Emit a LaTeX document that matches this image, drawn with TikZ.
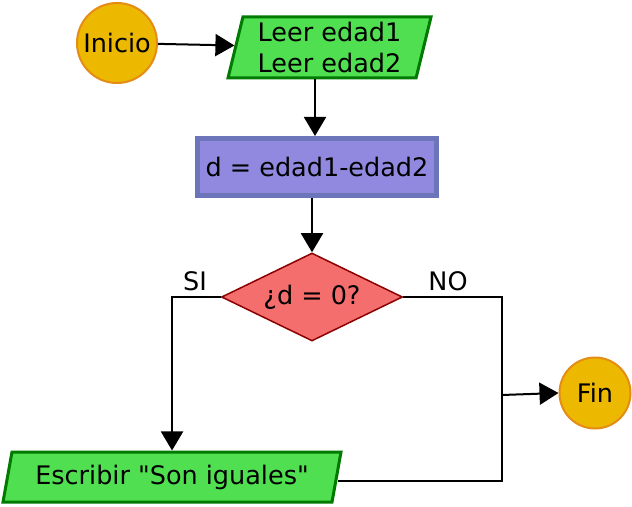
\documentclass[tikz,border=0pt]{standalone}
\usepackage{fontspec}
\setmainfont{DejaVu Sans}[Ligatures=TeXOff]
\usetikzlibrary{positioning,shapes.geometric,arrows.meta}

\definecolor{termfill}{RGB}{236,185,0}
\definecolor{termline}{RGB}{228,140,20}
\definecolor{iofill}{RGB}{80,223,80}
\definecolor{ioline}{RGB}{0,122,0}
\definecolor{procfill}{RGB}{144,137,223}
\definecolor{procline}{RGB}{108,116,186}
\definecolor{condfill}{RGB}{245,110,110}
\definecolor{condline}{RGB}{139,0,0}

\begin{document}
\begin{tikzpicture}[x=1bp, y=-1bp, font=\fontsize{25.5bp}{31bp}\selectfont,
    terminal/.style={circle, draw=termline, fill=termfill, line width=2bp, inner sep=0pt},
    io/.style={trapezium, trapezium stretches body, draw=ioline, fill=iofill, line width=3bp, inner sep=0pt},
    proc/.style={rectangle, draw=procline, fill=procfill, line width=5bp, inner sep=0pt, minimum width=239bp, minimum height=57bp},
    cond/.style={diamond, draw=condline, fill=condfill, line width=1.5bp, inner sep=0pt, minimum width=181bp, minimum height=88bp, aspect=2.06},
    arr/.style={-{Triangle[length=19bp, width=22bp]}},
    line width=2bp]
    \useasboundingbox (0,0) rectangle (632,507);
    % nodes
    \node [terminal, minimum size=80bp] (inicio) at (117,43) {Inicio};
    \node [io, trapezium left angle=73.6, trapezium right angle=106.4, minimum width=203bp, minimum height=61bp, align=center] (leer) at (329.5,47.5) {Leer edad1\\Leer edad2};
    \node [proc] (calc) at (317,167) {d = edad1-edad2};
    \node [cond] (decision) at (312,297) {¿d = 0?};
    \node [io, trapezium left angle=70, trapezium right angle=110, minimum width=338bp, minimum height=50bp] (escribir) at (172,477) {Escribir "Son iguales"};
    \node [terminal, minimum size=71bp] (fin) at (595,393) {Fin};
    \node (si) at (195,281) {SI};
    \node (no) at (448,281) {NO};
    \coordinate (union) at (502,395);
    % connectors
    \draw [arr] (inicio) -- (leer);
    \draw [arr] (leer.south -| 315,0) -- (calc.north -| 315,0);
    \draw [arr] (calc.south -| decision.north) -- (decision.north);
    \draw [arr] (decision.west) -| (escribir.north);
    \draw (decision.east) -| (union) |- ([yshift=-4bp]escribir.east);
    \draw [arr] (union) -- (fin.west);
\end{tikzpicture}
\end{document}
